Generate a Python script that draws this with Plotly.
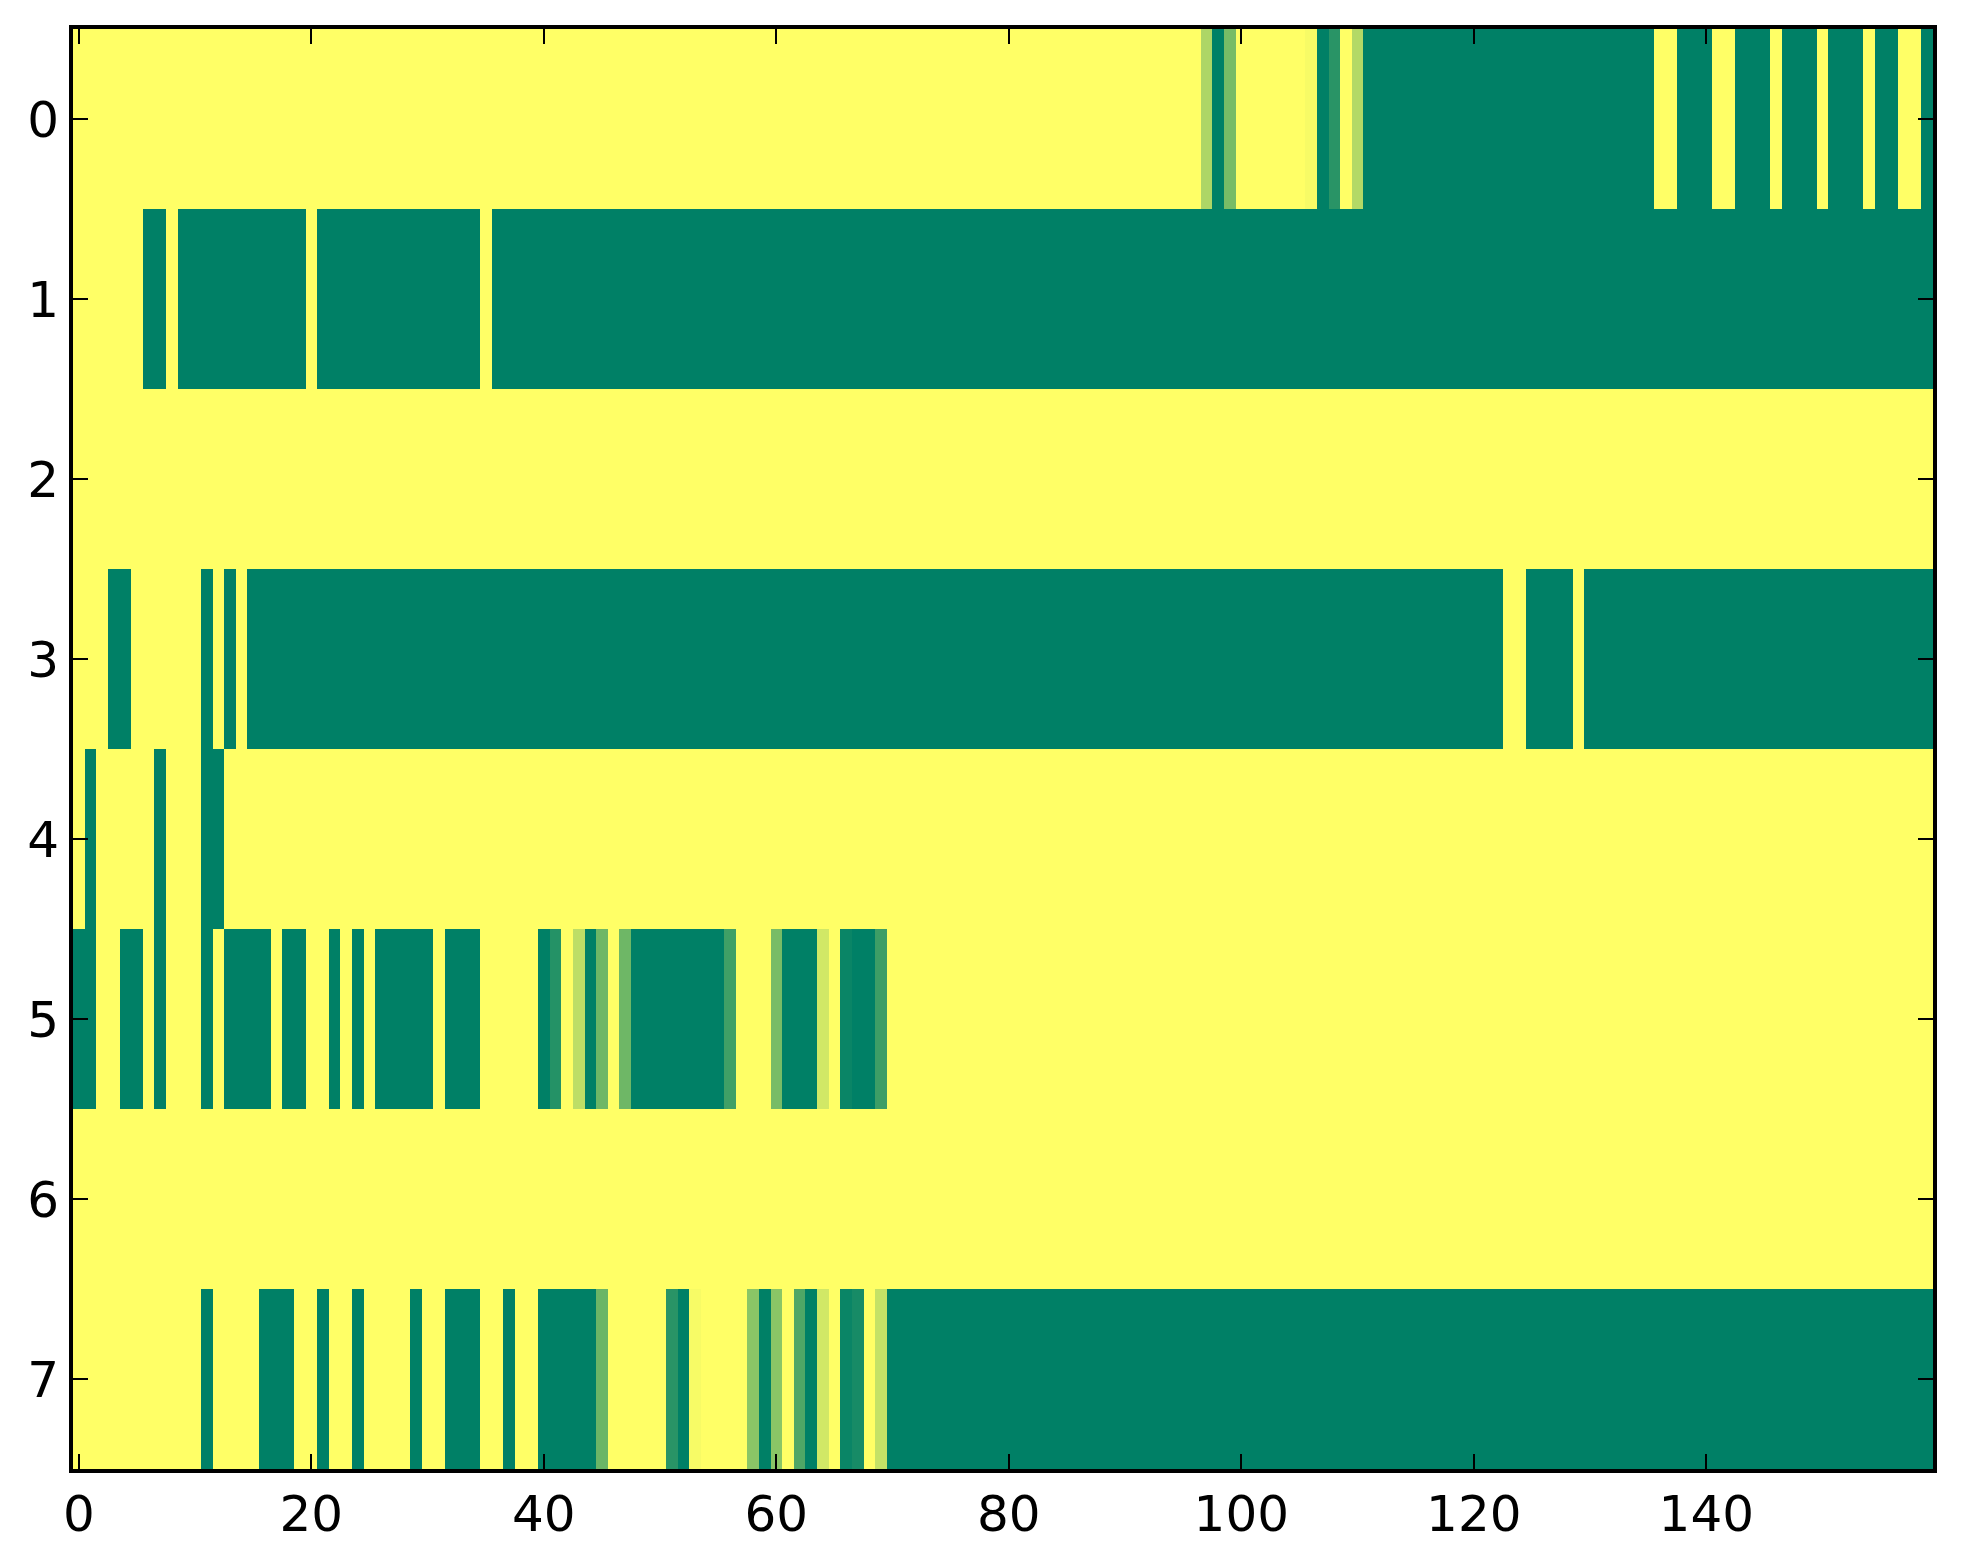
import plotly.graph_objects as go

# summer colormap values, one list of 160 cells per row (0 = green, 1 = yellow)
row0 = [1, 1, 1, 1, 1, 1, 1, 1, 1, 1, 1, 1, 1, 1, 1, 1, 1, 1, 1, 1,
        1, 1, 1, 1, 1, 1, 1, 1, 1, 1, 1, 1, 1, 1, 1, 1, 1, 1, 1, 1,
        1, 1, 1, 1, 1, 1, 1, 1, 1, 1, 1, 1, 1, 1, 1, 1, 1, 1, 1, 1,
        1, 1, 1, 1, 1, 1, 1, 1, 1, 1, 1, 1, 1, 1, 1, 1, 1, 1, 1, 1,
        1, 1, 1, 1, 1, 1, 1, 1, 1, 1, 1, 1, 1, 1, 1, 1, 1, 0.68, 0, 0.47,
        1, 1, 1, 1, 1, 1, 0.97, 0, 0.16, 1, 0.7, 0, 0, 0, 0, 0, 0, 0, 0, 0,
        0, 0, 0, 0, 0, 0, 0, 0, 0, 0, 0, 0, 0, 0, 0, 0, 1, 1, 0, 0,
        0, 1, 1, 0, 0, 0, 1, 0, 0, 0, 1, 0, 0, 0, 1, 0, 0, 1, 1, 0]

row1 = [1, 1, 1, 1, 1, 1, 0, 0, 1, 0, 0, 0, 0, 0, 0, 0, 0, 0, 0, 0,
        1, 0, 0, 0, 0, 0, 0, 0, 0, 0, 0, 0, 0, 0, 0, 1, 0, 0, 0, 0,
        0, 0, 0, 0, 0, 0, 0, 0, 0, 0, 0, 0, 0, 0, 0, 0, 0, 0, 0, 0,
        0, 0, 0, 0, 0, 0, 0, 0, 0, 0, 0, 0, 0, 0, 0, 0, 0, 0, 0, 0,
        0, 0, 0, 0, 0, 0, 0, 0, 0, 0, 0, 0, 0, 0, 0, 0, 0, 0, 0, 0,
        0, 0, 0, 0, 0, 0, 0, 0, 0, 0, 0, 0, 0, 0, 0, 0, 0, 0, 0, 0,
        0, 0, 0, 0, 0, 0, 0, 0, 0, 0, 0, 0, 0, 0, 0, 0, 0, 0, 0, 0,
        0, 0, 0, 0, 0, 0, 0, 0, 0, 0, 0, 0, 0, 0, 0, 0, 0, 0, 0, 0]

row2 = [1, 1, 1, 1, 1, 1, 1, 1, 1, 1, 1, 1, 1, 1, 1, 1, 1, 1, 1, 1,
        1, 1, 1, 1, 1, 1, 1, 1, 1, 1, 1, 1, 1, 1, 1, 1, 1, 1, 1, 1,
        1, 1, 1, 1, 1, 1, 1, 1, 1, 1, 1, 1, 1, 1, 1, 1, 1, 1, 1, 1,
        1, 1, 1, 1, 1, 1, 1, 1, 1, 1, 1, 1, 1, 1, 1, 1, 1, 1, 1, 1,
        1, 1, 1, 1, 1, 1, 1, 1, 1, 1, 1, 1, 1, 1, 1, 1, 1, 1, 1, 1,
        1, 1, 1, 1, 1, 1, 1, 1, 1, 1, 1, 1, 1, 1, 1, 1, 1, 1, 1, 1,
        1, 1, 1, 1, 1, 1, 1, 1, 1, 1, 1, 1, 1, 1, 1, 1, 1, 1, 1, 1,
        1, 1, 1, 1, 1, 1, 1, 1, 1, 1, 1, 1, 1, 1, 1, 1, 1, 1, 1, 1]

row3 = [1, 1, 1, 0, 0, 1, 1, 1, 1, 1, 1, 0, 1, 0, 1, 0, 0, 0, 0, 0,
        0, 0, 0, 0, 0, 0, 0, 0, 0, 0, 0, 0, 0, 0, 0, 0, 0, 0, 0, 0,
        0, 0, 0, 0, 0, 0, 0, 0, 0, 0, 0, 0, 0, 0, 0, 0, 0, 0, 0, 0,
        0, 0, 0, 0, 0, 0, 0, 0, 0, 0, 0, 0, 0, 0, 0, 0, 0, 0, 0, 0,
        0, 0, 0, 0, 0, 0, 0, 0, 0, 0, 0, 0, 0, 0, 0, 0, 0, 0, 0, 0,
        0, 0, 0, 0, 0, 0, 0, 0, 0, 0, 0, 0, 0, 0, 0, 0, 0, 0, 0, 0,
        0, 0, 0, 1, 1, 0, 0, 0, 0, 1, 0, 0, 0, 0, 0, 0, 0, 0, 0, 0,
        0, 0, 0, 0, 0, 0, 0, 0, 0, 0, 0, 0, 0, 0, 0, 0, 0, 0, 0, 0]

row4 = [1, 0, 1, 1, 1, 1, 1, 0, 1, 1, 1, 0, 0, 1, 1, 1, 1, 1, 1, 1,
        1, 1, 1, 1, 1, 1, 1, 1, 1, 1, 1, 1, 1, 1, 1, 1, 1, 1, 1, 1,
        1, 1, 1, 1, 1, 1, 1, 1, 1, 1, 1, 1, 1, 1, 1, 1, 1, 1, 1, 1,
        1, 1, 1, 1, 1, 1, 1, 1, 1, 1, 1, 1, 1, 1, 1, 1, 1, 1, 1, 1,
        1, 1, 1, 1, 1, 1, 1, 1, 1, 1, 1, 1, 1, 1, 1, 1, 1, 1, 1, 1,
        1, 1, 1, 1, 1, 1, 1, 1, 1, 1, 1, 1, 1, 1, 1, 1, 1, 1, 1, 1,
        1, 1, 1, 1, 1, 1, 1, 1, 1, 1, 1, 1, 1, 1, 1, 1, 1, 1, 1, 1,
        1, 1, 1, 1, 1, 1, 1, 1, 1, 1, 1, 1, 1, 1, 1, 1, 1, 1, 1, 1]

row5 = [0, 0, 1, 1, 0, 0, 1, 0, 1, 1, 1, 0, 1, 0, 0, 0, 0, 1, 0, 0,
        1, 1, 0, 1, 0, 1, 0, 0, 0, 0, 0, 1, 0, 0, 0, 1, 1, 1, 1, 1,
        0, 0.14, 1, 0.74, 0, 0.43, 1, 0.43, 0, 0, 0, 0, 0, 0, 0, 0, 0.25, 1, 1, 1,
        0.47, 0, 0, 0, 0.82, 1, 0.04, 0, 0, 0.24, 1, 1, 1, 1, 1, 1, 1, 1, 1, 1,
        1, 1, 1, 1, 1, 1, 1, 1, 1, 1, 1, 1, 1, 1, 1, 1, 1, 1, 1, 1,
        1, 1, 1, 1, 1, 1, 1, 1, 1, 1, 1, 1, 1, 1, 1, 1, 1, 1, 1, 1,
        1, 1, 1, 1, 1, 1, 1, 1, 1, 1, 1, 1, 1, 1, 1, 1, 1, 1, 1, 1,
        1, 1, 1, 1, 1, 1, 1, 1, 1, 1, 1, 1, 1, 1, 1, 1, 1, 1, 1, 1]

row6 = [1, 1, 1, 1, 1, 1, 1, 1, 1, 1, 1, 1, 1, 1, 1, 1, 1, 1, 1, 1,
        1, 1, 1, 1, 1, 1, 1, 1, 1, 1, 1, 1, 1, 1, 1, 1, 1, 1, 1, 1,
        1, 1, 1, 1, 1, 1, 1, 1, 1, 1, 1, 1, 1, 1, 1, 1, 1, 1, 1, 1,
        1, 1, 1, 1, 1, 1, 1, 1, 1, 1, 1, 1, 1, 1, 1, 1, 1, 1, 1, 1,
        1, 1, 1, 1, 1, 1, 1, 1, 1, 1, 1, 1, 1, 1, 1, 1, 1, 1, 1, 1,
        1, 1, 1, 1, 1, 1, 1, 1, 1, 1, 1, 1, 1, 1, 1, 1, 1, 1, 1, 1,
        1, 1, 1, 1, 1, 1, 1, 1, 1, 1, 1, 1, 1, 1, 1, 1, 1, 1, 1, 1,
        1, 1, 1, 1, 1, 1, 1, 1, 1, 1, 1, 1, 1, 1, 1, 1, 1, 1, 1, 1]

row7 = [1, 1, 1, 1, 1, 1, 1, 1, 1, 1, 1, 0, 1, 1, 1, 1, 0, 0, 0, 1,
        1, 0, 1, 1, 0, 1, 1, 1, 1, 0, 1, 1, 0, 0, 0, 1, 1, 0, 1, 1,
        0, 0, 0, 0, 0, 0.42, 1, 1, 1, 1, 1, 0.16, 0, 0.97, 1, 1, 1, 1, 0.54, 0,
        0.54, 1, 0.31, 0, 0.82, 1, 0.04, 0.09, 1, 0.77, 0, 0, 0, 0, 0, 0, 0, 0, 0, 0,
        0, 0, 0, 0, 0, 0, 0, 0, 0, 0, 0, 0, 0, 0, 0, 0, 0, 0, 0, 0,
        0, 0, 0, 0, 0, 0, 0, 0, 0, 0, 0, 0, 0, 0, 0, 0, 0, 0, 0, 0,
        0, 0, 0, 0, 0, 0, 0, 0, 0, 0, 0, 0, 0, 0, 0, 0, 0, 0, 0, 0,
        0, 0, 0, 0, 0, 0, 0, 0, 0, 0, 0, 0, 0, 0, 0, 0, 0, 0, 0, 0]

rows = [row0, row1, row2, row3, row4, row5, row6, row7]
cols = list(range(160))
row_ids = list(range(8))
xticks = [0, 20, 40, 60, 80, 100, 120, 140]

summer = [[0, "rgb(0,128,102)"], [1, "rgb(255,255,102)"]]

fig = go.Figure(go.Heatmap(
    z=rows, x=cols, y=row_ids,
    colorscale=summer, zmin=0, zmax=1,
    showscale=False,
))

axis_style = dict(
    showline=True, linecolor="black", linewidth=4, mirror="ticks",
    ticks="inside", ticklen=15, tickwidth=2, tickcolor="black",
    showgrid=False, zeroline=False, automargin=False,
    tickfont=dict(family="DejaVu Sans", size=50, color="black"),
)

# page body adds 8px on left/top, margins account for it
fig.update_layout(
    width=1963, height=1564,
    margin=dict(l=65, r=38, t=21, b=103),
    paper_bgcolor="white", plot_bgcolor="white",
    xaxis=dict(range=[-0.5, 159.5], tickvals=xticks, ticklabelstandoff=-2, **axis_style),
    yaxis=dict(range=[7.5, -0.5], tickvals=row_ids, ticklabelstandoff=0, **axis_style),
)

fig.write_html("out.html")
